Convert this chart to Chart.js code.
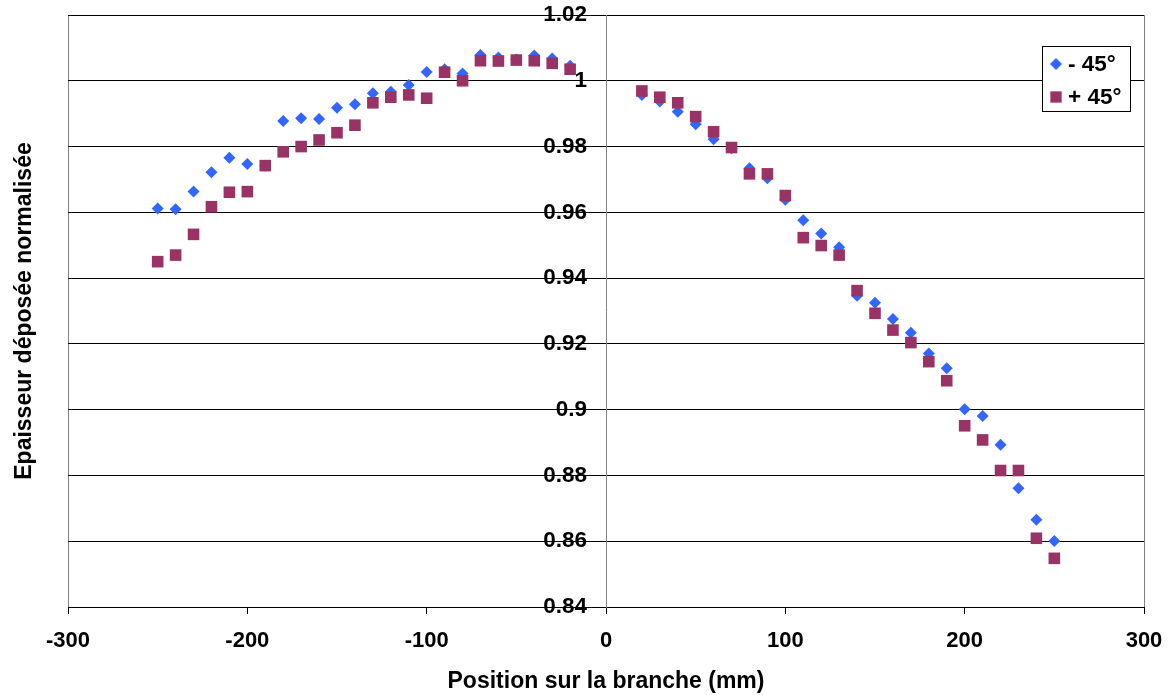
<!DOCTYPE html>
<html>
<head>
<meta charset="utf-8">
<script src="https://cdn.jsdelivr.net/npm/chart.js@4/dist/chart.umd.min.js"></script>
<style>
  body { margin: 0; background: #fff; }
  #wrap { width: 1170px; height: 695px; }
</style>
</head>
<body>
<div id="wrap"><canvas id="graphe" width="1170" height="695"></canvas></div>
<script>
// positions (mm) sur la branche
const positions = [-250, -240, -230, -220, -210, -200, -190, -180, -170, -160, -150, -140,
  -130, -120, -110, -100, -90, -80, -70, -60, -50, -40, -30, -20,
  20, 30, 40, 50, 60, 70, 80, 90, 100, 110, 120, 130,
  140, 150, 160, 170, 180, 190, 200, 210, 220, 230, 240, 250];

const moins45 = [0.9612, 0.9609, 0.9663, 0.9722, 0.9766, 0.9747, 0.9742, 0.9878, 0.9886, 0.9884, 0.9918, 0.9929,
  0.9962, 0.9967, 0.9987, 1.0027, 1.0035, 1.0022, 1.0078, 1.0071, 1.0065, 1.0077, 1.0068, 1.0046,
  0.9957, 0.9937, 0.9906, 0.9868, 0.9822, 0.9795, 0.9734, 0.9704, 0.9638, 0.9576, 0.9536, 0.9494,
  0.9346, 0.9325, 0.9276, 0.9234, 0.9171, 0.9126, 0.9001, 0.8981, 0.8893, 0.8761, 0.8665, 0.8601];

const plus45 = [0.9450, 0.9470, 0.9533, 0.9617, 0.9661, 0.9663, 0.9742, 0.9784, 0.9800, 0.9820, 0.9842, 0.9865,
  0.9933, 0.9950, 0.9957, 0.9947, 1.0026, 1.0000, 1.0061, 1.0060, 1.0063, 1.0061, 1.0053, 1.0035,
  0.9969, 0.9950, 0.9933, 0.9891, 0.9845, 0.9797, 0.9717, 0.9717, 0.9651, 0.9523, 0.9499, 0.9470,
  0.9362, 0.9293, 0.9242, 0.9204, 0.9146, 0.9088, 0.8951, 0.8908, 0.8815, 0.8815, 0.8609, 0.8548];

const police = "'Liberation Sans', Arial, sans-serif";
const fmtY = v => String(+v.toFixed(2));

const toPoints = vals => positions.map((x, i) => ({ x: x, y: vals[i] }));

// etiquettes de l'axe Y (axe place a x = 0), decalees a gauche de l'axe
const etiquettesY = {
  id: 'etiquettesY',
  afterDraw(chart) {
    const c = chart.ctx, ys = chart.scales.y, xs = chart.scales.x;
    const ax = xs.getPixelForValue(0);
    c.save();
    c.font = 'bold 22.5px ' + police;
    c.fillStyle = '#000';
    c.textAlign = 'right';
    c.textBaseline = 'middle';
    ys.ticks.forEach(t => {
      c.fillText(fmtY(t.value), ax - 19, ys.getPixelForValue(t.value));
    });
    c.restore();
  }
};

// legende dessinee dans la zone du graphe, comme sous Excel
const legendeInterne = {
  id: 'legendeInterne',
  afterDraw(chart) {
    const c = chart.ctx, area = chart.chartArea;
    const w = 88, h = 65;
    const left = area.right - 14 - w, top = area.top + 31;
    c.save();
    c.fillStyle = '#fff';
    c.fillRect(left, top, w, h);
    c.strokeStyle = '#000';
    c.lineWidth = 1;
    c.strokeRect(left + 0.5, top + 0.5, w, h);
    c.font = 'bold 22.5px ' + police;
    c.textBaseline = 'middle';
    chart.data.datasets.forEach((ds, i) => {
      const y = top + 18 + i * 33;
      c.fillStyle = ds.backgroundColor;
      Chart.helpers.drawPoint(c, { pointStyle: ds.pointStyle, radius: ds.legendRadius, rotation: 0, borderWidth: 0 }, left + 14, y);
      c.fillStyle = '#000';
      c.fillText(ds.label, left + 26, y + 1);
    });
    c.restore();
  }
};

const ctx = document.getElementById('graphe');
new Chart(ctx, {
  type: 'scatter',
  data: {
    datasets: [{
      label: '- 45°',
      data: toPoints(moins45),
      pointStyle: 'rectRot',
      pointRadius: 6,
      legendRadius: 6,
      backgroundColor: '#3366ff',
      borderWidth: 0,
      order: 1
    }, {
      label: '+ 45°',
      data: toPoints(plus45),
      pointStyle: 'rect',
      pointRadius: 8.2,
      legendRadius: 8,
      backgroundColor: '#993366',
      borderWidth: 0,
      order: 0
    }]
  },
  options: {
    responsive: false,
    animation: false,
    layout: { padding: { top: 15, right: 26, left: 0, bottom: 0 } },
    plugins: {
      legend: { display: false },
      tooltip: { enabled: false }
    },
    scales: {
      x: {
        type: 'linear',
        min: -300, max: 300,
        ticks: {
          stepSize: 100,
          color: '#000',
          padding: 14,
          font: { family: police, size: 22, weight: 'bold' }
        },
        grid: {
          color: c => (c.tick && Math.abs(c.tick.value) === 300) ? '#808080' : 'transparent',
          tickColor: '#000',
          tickLength: 7
        },
        border: { color: '#000' },
        title: {
          display: true,
          text: 'Position sur la branche (mm)',
          color: '#000',
          font: { family: police, size: 23, weight: 'bold' },
          padding: { top: 4, bottom: 0 }
        },
        afterFit: s => { s.height = 88; s.paddingLeft = 0; s.paddingRight = 0; }
      },
      y: {
        type: 'linear',
        position: { x: 0 },
        min: 0.84, max: 1.02,
        ticks: { stepSize: 0.02, display: false },
        grid: { color: '#000', tickColor: '#000', tickLength: 7 },
        border: { color: '#808080' }
      },
      yTitre: {
        type: 'linear',
        position: 'left',
        ticks: { display: false },
        grid: { display: false, drawTicks: false },
        border: { display: false },
        title: {
          display: true,
          text: 'Epaisseur déposée normalisée',
          color: '#000',
          font: { family: police, size: 23, weight: 'bold' },
          padding: { top: 11, bottom: 0 }
        },
        afterFit: s => { s.width = 68; }
      }
    }
  },
  plugins: [etiquettesY, legendeInterne]
});
</script>
</body>
</html>
